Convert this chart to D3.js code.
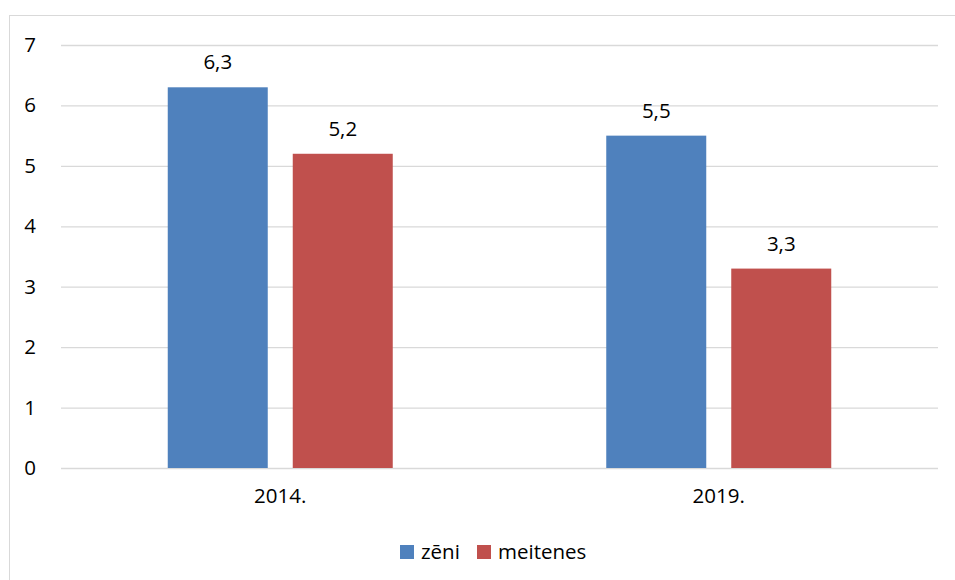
<!DOCTYPE html>
<html>
<head>
<meta charset="utf-8">
<script src="https://cdn.jsdelivr.net/npm/d3@7"></script>
<style>
  body { margin: 0; background: #fff; }
  svg text { font-family: "Open Sans", Lato, sans-serif; fill: #000; }
</style>
</head>
<body>
<svg id="chart" width="955" height="580"></svg>
<script>
const years = ['2014.', '2019.'];
const seriesNames = ['zēni', 'meitenes'];
const zeni = [6.3, 5.5];
const meitenes = [5.2, 3.3];
const yTicks = [0, 1, 2, 3, 4, 5, 6, 7];
const colors = ['#4f81bd', '#c0504d'];
const fontSize = 20.5;

const svg = d3.select('#chart');
const margin = { top: 45, left: 61, right: 17, bottom: 112 };
const width = 955 - margin.left - margin.right;
const height = 580 - margin.top - margin.bottom;

// chart frame
svg.append('rect')
  .attr('x', 9.5).attr('y', 15.5)
  .attr('width', 960).attr('height', 600)
  .attr('fill', 'none')
  .attr('stroke', '#d9d9d9');

const g = svg.append('g').attr('transform', `translate(${margin.left},${margin.top})`);

const x = d3.scaleBand().domain(years).range([0, width]);
const y = d3.scaleLinear().domain([0, 7]).range([height, 0]);

// bar geometry: 100px bars, 25px gap between series
const barW = x.bandwidth() * 100 / 438.5;
const gap = x.bandwidth() * 25 / 438.5;
const xs = d3.scaleBand().domain(seriesNames)
  .range([(x.bandwidth() - 2 * barW - gap) / 2, (x.bandwidth() + 2 * barW + gap) / 2])
  .paddingInner(gap / (barW + gap));

const yAxis = d3.axisLeft(y).tickValues(yTicks).tickSize(-width).tickPadding(23).tickFormat(d => d);
g.append('g')
  .call(yAxis)
  .call(sel => {
    sel.select('.domain').remove();
    sel.selectAll('.tick line').attr('stroke', '#d9d9d9').attr('stroke-width', 1.3);
    sel.selectAll('.tick text').attr('font-size', fontSize).attr('text-anchor', 'middle').attr('dx', -8);
  });

const xAxis = d3.axisBottom(x).tickSize(0).tickPadding(20);
g.append('g')
  .attr('transform', `translate(0,${height})`)
  .call(xAxis)
  .call(sel => {
    sel.select('.domain').remove();
    sel.selectAll('.tick text').attr('font-size', fontSize);
  });

const rows = years.map((yr, i) => ({ year: yr, values: [zeni[i], meitenes[i]] }));

const groups = g.selectAll('.year')
  .data(rows)
  .join('g')
  .attr('class', 'year')
  .attr('transform', d => `translate(${x(d.year)},0)`);

const bars = groups.selectAll('g.bar')
  .data(d => d.values.map((v, i) => ({ name: seriesNames[i], value: v, i })))
  .join('g')
  .attr('class', 'bar');

bars.append('rect')
  .attr('x', d => xs(d.name))
  .attr('width', xs.bandwidth())
  .attr('y', d => y(d.value))
  .attr('height', d => height - y(d.value))
  .attr('fill', d => colors[d.i]);

bars.append('text')
  .attr('x', d => xs(d.name) + xs.bandwidth() / 2)
  .attr('y', d => y(d.value) - 18)
  .attr('text-anchor', 'middle')
  .attr('font-size', fontSize)
  .text(d => d3.format('.1f')(d.value).replace('.', ','));

// legend
const legend = svg.append('g').attr('transform', 'translate(400,545)');
const legendX = [0, 77];
const item = legend.selectAll('g')
  .data(seriesNames)
  .join('g')
  .attr('transform', (d, i) => `translate(${legendX[i]},0)`);
item.append('rect')
  .attr('width', 14).attr('height', 14)
  .attr('fill', (d, i) => colors[i]);
item.append('text')
  .attr('x', 21).attr('y', 13.5)
  .attr('font-size', fontSize)
  .text(d => d);
</script>
</body>
</html>
